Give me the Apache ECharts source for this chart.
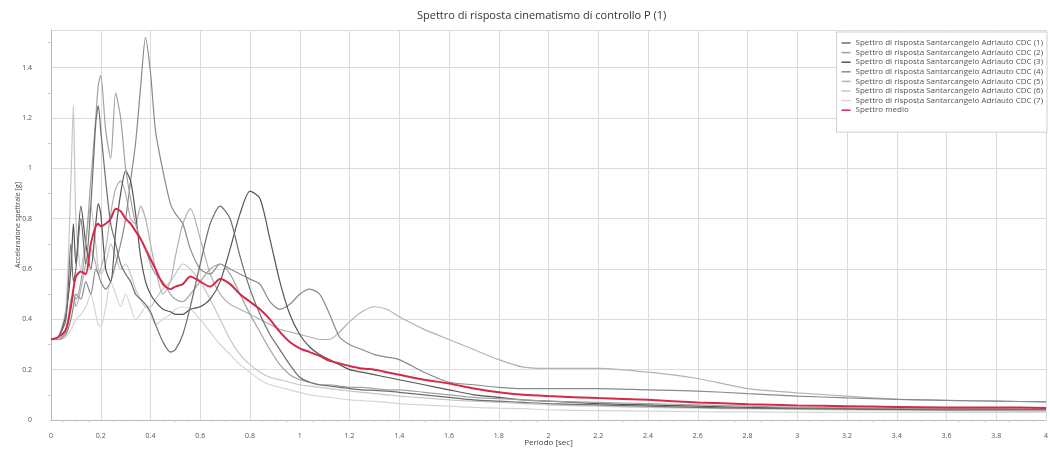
<!DOCTYPE html>
<html>
<head>
<meta charset="utf-8">
<script src="https://cdn.jsdelivr.net/npm/echarts@6/dist/echarts.min.js"></script>
<style>html,body{margin:0;padding:0;background:#fff}#c{width:1050px;height:450px}</style>
</head>
<body>
<div id="c"></div>
<script>
const titleText = 'Spettro di risposta cinematismo di controllo P (1)';
const xName = 'Periodo [sec]';
const yName = 'Accelerazione spettrale [g]';
const seriesNames = [
  'Spettro di risposta Santarcangelo Adriauto CDC (1)',
  'Spettro di risposta Santarcangelo Adriauto CDC (2)',
  'Spettro di risposta Santarcangelo Adriauto CDC (3)',
  'Spettro di risposta Santarcangelo Adriauto CDC (4)',
  'Spettro di risposta Santarcangelo Adriauto CDC (5)',
  'Spettro di risposta Santarcangelo Adriauto CDC (6)',
  'Spettro di risposta Santarcangelo Adriauto CDC (7)',
  'Spettro medio'
];
const periods = [0,0.03,0.06,0.08,0.09,0.1,0.12,0.14,0.16,0.18,0.19,0.2,0.22,0.24,0.26,0.28,0.3,0.32,0.34,0.36,0.38,0.4,0.42,0.45,0.48,0.5,0.53,0.56,0.6,0.64,0.68,0.72,0.76,0.8,0.84,0.88,0.92,0.96,
  1.0,1.04,1.08,1.12,1.16,1.2,1.25,1.3,1.35,1.4,1.5,1.6,1.7,1.8,1.9,2.0,2.2,2.4,2.6,2.8,3.0,3.2,3.4,3.6,3.8,4.0];

const s1 = [0.32,0.33,0.40,0.70,0.55,0.60,0.80,0.62,0.85,1.18,1.25,1.15,0.95,0.78,0.70,0.62,0.58,0.55,0.50,0.48,0.46,0.43,0.38,0.31,0.27,0.28,0.34,0.45,0.62,0.78,0.85,0.80,0.65,0.52,0.42,0.34,0.28,0.22,
  0.17,0.15,0.14,0.135,0.13,0.125,0.12,0.118,0.115,0.11,0.10,0.09,0.08,0.075,0.07,0.065,0.06,0.055,0.05,0.047,0.045,0.043,0.042,0.04,0.04,0.04];
const s2 = [0.32,0.32,0.35,0.45,0.50,0.48,0.55,0.70,0.95,1.20,1.33,1.37,1.15,1.04,1.30,1.20,1.00,0.88,0.78,0.72,0.68,0.62,0.58,0.55,0.50,0.48,0.47,0.50,0.55,0.60,0.62,0.58,0.50,0.42,0.35,0.28,0.22,0.18,
  0.16,0.15,0.14,0.14,0.135,0.13,0.13,0.125,0.12,0.12,0.11,0.10,0.09,0.085,0.08,0.075,0.07,0.065,0.06,0.055,0.05,0.048,0.046,0.045,0.044,0.043];
const s3 = [0.32,0.33,0.42,0.60,0.78,0.62,0.85,0.70,0.60,0.78,0.86,0.82,0.60,0.55,0.75,0.90,0.99,0.95,0.82,0.65,0.55,0.50,0.47,0.44,0.43,0.42,0.42,0.44,0.45,0.48,0.55,0.68,0.82,0.91,0.88,0.72,0.55,0.42,
  0.34,0.29,0.26,0.24,0.22,0.20,0.19,0.18,0.17,0.16,0.14,0.12,0.10,0.09,0.08,0.075,0.065,0.06,0.055,0.05,0.048,0.046,0.045,0.044,0.043,0.042];
const s4 = [0.32,0.32,0.34,0.40,0.45,0.50,0.48,0.55,0.50,0.60,0.58,0.55,0.52,0.55,0.62,0.70,0.80,0.95,1.10,1.32,1.52,1.38,1.15,0.99,0.86,0.82,0.78,0.68,0.60,0.58,0.62,0.60,0.58,0.56,0.54,0.47,0.44,0.46,
  0.50,0.52,0.50,0.42,0.33,0.30,0.28,0.26,0.25,0.24,0.19,0.15,0.14,0.13,0.125,0.125,0.125,0.12,0.115,0.105,0.095,0.088,0.082,0.078,0.075,0.072];
const s5 = [0.32,0.32,0.36,0.48,0.50,0.45,0.52,0.62,0.68,0.62,0.58,0.60,0.68,0.82,0.92,0.95,0.90,0.80,0.78,0.85,0.80,0.70,0.60,0.50,0.55,0.65,0.78,0.84,0.72,0.58,0.50,0.46,0.44,0.42,0.40,0.38,0.36,0.35,
  0.34,0.33,0.32,0.32,0.35,0.39,0.43,0.45,0.44,0.41,0.36,0.32,0.28,0.24,0.21,0.205,0.205,0.19,0.165,0.125,0.108,0.095,0.083,0.078,0.075,0.072];
const s6 = [0.32,0.33,0.45,0.95,1.25,0.80,0.60,0.72,0.85,0.70,0.60,0.58,0.62,0.70,0.65,0.60,0.62,0.58,0.52,0.48,0.45,0.45,0.48,0.52,0.55,0.58,0.62,0.60,0.55,0.48,0.40,0.32,0.26,0.22,0.19,0.17,0.16,0.15,
  0.14,0.135,0.13,0.125,0.12,0.115,0.11,0.105,0.10,0.095,0.088,0.08,0.075,0.07,0.065,0.06,0.055,0.05,0.047,0.044,0.042,0.04,0.038,0.037,0.036,0.035];
const s7 = [0.32,0.32,0.33,0.36,0.38,0.40,0.42,0.45,0.50,0.42,0.38,0.37,0.45,0.55,0.50,0.45,0.50,0.45,0.40,0.42,0.45,0.42,0.38,0.40,0.42,0.44,0.45,0.44,0.40,0.35,0.30,0.26,0.22,0.19,0.16,0.14,0.13,0.12,
  0.11,0.10,0.095,0.09,0.085,0.08,0.077,0.074,0.07,0.065,0.06,0.055,0.05,0.047,0.045,0.04,0.037,0.035,0.033,0.032,0.031,0.03,0.03,0.03,0.03,0.03];
const meanSpectrum = [0.32,0.33,0.36,0.45,0.52,0.57,0.59,0.58,0.70,0.77,0.78,0.77,0.78,0.80,0.84,0.83,0.80,0.78,0.75,0.72,0.68,0.64,0.60,0.54,0.52,0.53,0.54,0.57,0.55,0.53,0.56,0.54,0.50,0.47,0.44,0.40,0.35,0.31,
  0.285,0.27,0.255,0.235,0.225,0.215,0.205,0.20,0.19,0.18,0.16,0.145,0.125,0.11,0.10,0.095,0.087,0.08,0.07,0.063,0.058,0.055,0.052,0.05,0.05,0.048];

const allSeries = [s1, s2, s3, s4, s5, s6, s7, meanSpectrum];
const colors = ['#6e6e6e','#a2a2a2','#555555','#8a8a8a','#b2b2b2','#c6c6c6','#d6d6d6','#d42a4a'];
const font = "'Open Sans',sans-serif";

const chart = echarts.init(document.getElementById('c'), null, {renderer: 'canvas'});
chart.setOption({
  animation: false,
  backgroundColor: '#ffffff',
  color: colors,
  title: {
    text: titleText, left: 412, top: 5,
    textStyle: {fontSize: 11, fontWeight: 'normal', color: '#333', fontFamily: font}
  },
  legend: {
    orient: 'vertical', right: 3, top: 32,
    data: seriesNames,
    icon: 'rect',
    itemWidth: 9, itemHeight: 1.5, itemGap: 1.6,
    padding: [7, 4, 18, 5],
    borderColor: '#cfcfcf', borderWidth: 1, backgroundColor: '#fff',
    textStyle: {fontSize: 8, lineHeight: 8, color: '#555', fontFamily: font}
  },
  grid: {left: 51, right: 4, top: 30, bottom: 30, containLabel: false, outerBoundsMode: 'none'},
  xAxis: {
    type: 'value', min: 0, max: 4, interval: 0.2,
    name: xName, nameLocation: 'middle', nameGap: 19, nameMoveOverlap: false,
    nameTextStyle: {fontSize: 8, color: '#444', fontFamily: font},
    axisLine: {show: true, lineStyle: {color: '#bbb'}},
    axisTick: {show: false},
    minorTick: {show: true, splitNumber: 4, length: 2, lineStyle: {color: '#ccc'}},
    axisLabel: {fontSize: 7, color: '#555', margin: 12, fontFamily: font},
    splitLine: {show: true, lineStyle: {color: '#dcdcdc', width: 1}}
  },
  yAxis: {
    type: 'value', min: 0, max: 1.55, interval: 0.2,
    name: yName, nameLocation: 'middle', nameGap: 30, nameMoveOverlap: false,
    nameTextStyle: {fontSize: 7, color: '#444', fontFamily: font},
    axisLine: {show: true, lineStyle: {color: '#bbb'}},
    axisTick: {show: false},
    minorTick: {show: true, splitNumber: 2, length: 3, lineStyle: {color: '#ccc'}},
    axisLabel: {fontSize: 7, color: '#555', margin: 19, showMaxLabel: false, fontFamily: font},
    splitLine: {show: true, lineStyle: {color: '#dcdcdc', width: 1}}
  },
  series: allSeries.map((vals, i) => ({
    name: seriesNames[i],
    type: 'line',
    symbol: 'none',
    smooth: 0.25,
    z: i === 7 ? 10 : 2 + (7 - i),
    lineStyle: {width: i === 7 ? 2 : 1.2, color: colors[i]},
    data: periods.map((p, k) => [p, vals[k]])
  }))
});
</script>
</body>
</html>
